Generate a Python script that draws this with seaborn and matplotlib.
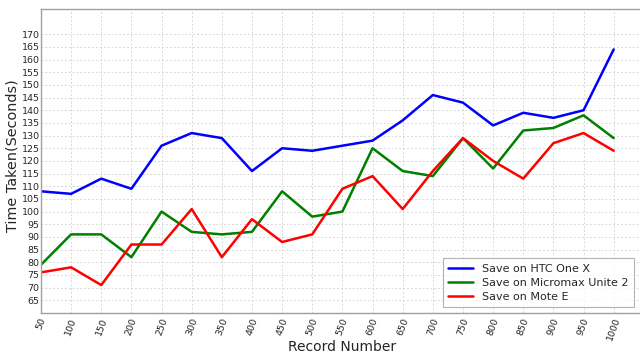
import matplotlib
matplotlib.use("Agg")
import matplotlib.pyplot as plt
import numpy as np
import pandas as pd
import seaborn as sns

records = [50, 100, 150, 200, 250, 300, 350, 400, 450, 500,
           550, 600, 650, 700, 750, 800, 850, 900, 950, 1000]
htc_one_x = [108, 107, 113, 109, 126, 131, 129, 116, 125, 124,
             126, 128, 136, 146, 143, 134, 139, 137, 140, 164]
micromax_unite2 = [79, 91, 91, 82, 100, 92, 91, 92, 108, 98,
                   100, 125, 116, 114, 129, 117, 132, 133, 138, 129]
mote_e = [76, 78, 71, 87, 87, 101, 82, 97, 88, 91,
          109, 114, 101, 116, 129, 120, 113, 127, 131, 124]
series_names = ["Save on HTC One X", "Save on Micromax Unite 2", "Save on Mote E"]
y_ticks = list(range(65, 171, 5))

df = pd.DataFrame({
    "Record Number": records * 3,
    "Time": htc_one_x + micromax_unite2 + mote_e,
    "Device": [series_names[0]] * len(records)
              + [series_names[1]] * len(records)
              + [series_names[2]] * len(records),
})

sns.set_style("white")
plt.rcParams["font.family"] = ["DejaVu Sans"]

fig = plt.figure(figsize=(6.4, 3.56), dpi=100)
ax = fig.add_axes([0.064, 0.121, 0.942, 0.854])

palette = {series_names[0]: "#0000ff",
           series_names[1]: "#008000",
           series_names[2]: "#ff0000"}
sns.lineplot(data=df, x="Record Number", y="Time", hue="Device",
             palette=palette, linewidth=1.8, ax=ax, legend=True)

ax.set_xlim(50, 1050)
ax.set_ylim(60, 180)
ax.set_xticks(records)
ax.set_xticklabels([str(r) for r in records], rotation=70, fontsize=6.8)
ax.set_yticks(y_ticks)
ax.set_yticklabels([str(t) for t in y_ticks], fontsize=6.8)
ax.tick_params(axis="both", length=0)
ax.tick_params(axis="y", pad=1)
ax.tick_params(axis="x", pad=2.5)

ax.grid(True, color="#d8d8d8", linestyle=(0, (2, 2)), linewidth=0.7)
for side in ["left", "bottom", "top", "right"]:
    ax.spines[side].set_color("#a0a0a0")
    ax.spines[side].set_linewidth(1.0)

ax.set_xlabel("Record Number", fontsize=10)
ax.set_ylabel("Time Taken(Seconds)", fontsize=10.4)
ax.xaxis.set_label_coords(0.5, -0.088)
ax.yaxis.set_label_coords(-0.036, 0.516)

leg = ax.legend(loc="lower right", bbox_to_anchor=(0.999, 0.121),
                bbox_transform=fig.transFigure, fontsize=8, frameon=True,
                fancybox=False, borderpad=0.5, handlelength=2.2,
                labelspacing=0.35)
leg.get_frame().set_edgecolor("#a0a0a0")
leg.get_frame().set_linewidth(0.8)

fig.savefig("out.png", dpi=100)
